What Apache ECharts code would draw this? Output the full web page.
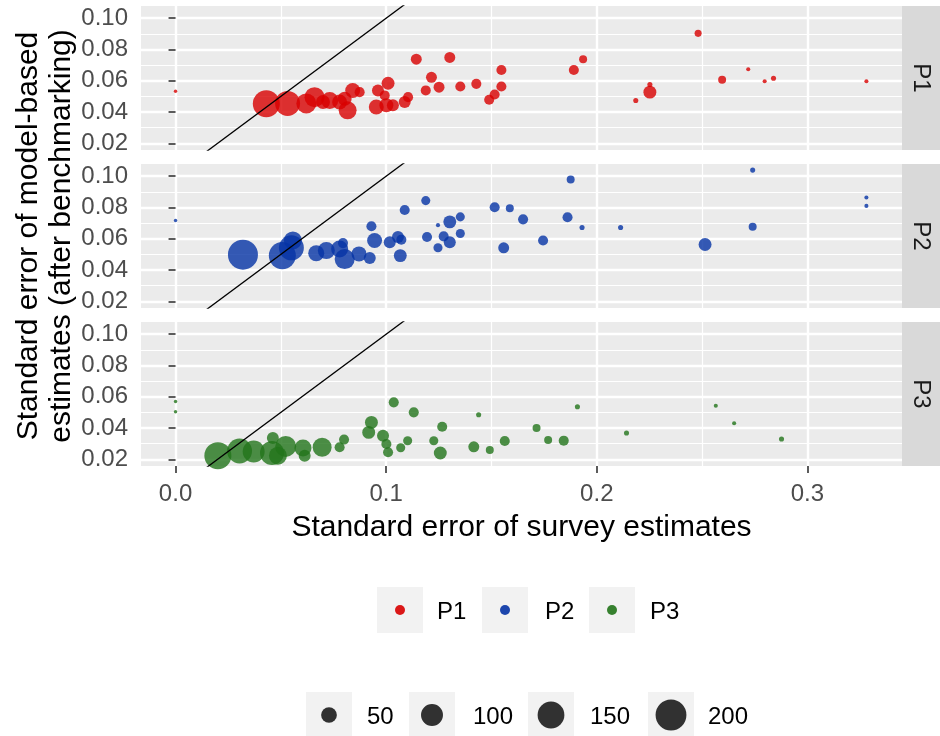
<!DOCTYPE html>
<html><head><meta charset="utf-8">
<script src="https://cdn.jsdelivr.net/npm/echarts@6/dist/echarts.min.js"></script>
<style>html,body{margin:0;padding:0;background:#fff}#c{width:940px;height:736px}</style>
</head><body><div id="c"></div>
<script>
// ---------------- data ----------------
const panels = ['P1', 'P2', 'P3'];
const xTicks = [0, 0.1, 0.2, 0.3];
const yTicks = [0.02, 0.04, 0.06, 0.08, 0.10];
const sizeBreaks = [50, 100, 150, 200];
const ablineIntercept = 0;
const ablineSlope = 1;

// P1: standard error of survey estimates / model-based estimates / size
const p1Survey = [0.000,0.0431,0.0532,0.0621,0.0660,0.0700,0.0732,0.0779,0.0803,0.0817,0.0841,0.0874,0.0953,0.0961,0.0993,0.1001,0.1009,0.1032,0.1088,0.1104,0.1143,0.1188,0.1215,0.1251,0.1302,0.1352,0.1428,0.1489,0.1515,0.1547,0.1547,0.1891,0.1935,0.2185,0.2252,0.2252,0.2481,0.2595,0.2719,0.2797,0.2839,0.3280];
const p1Model  = [0.0533,0.0453,0.0455,0.0455,0.0495,0.0464,0.0474,0.0464,0.0485,0.0411,0.0538,0.0527,0.0432,0.0538,0.0506,0.0443,0.0584,0.0443,0.0464,0.0495,0.0738,0.0538,0.0622,0.0559,0.0749,0.0563,0.0580,0.0478,0.0512,0.0563,0.0669,0.0669,0.0738,0.0474,0.0527,0.0576,0.0903,0.0607,0.0673,0.0597,0.0616,0.0597];
const p1Size   = [0,153,130,83,83,39,59,45,39,66,45,19,45,28,19,39,33,28,28,19,23,19,23,23,23,19,19,19,19,19,19,19,11,3,33,3,8,11,1,1,3,1];

const p2Survey = [0.000,0.0320,0.0507,0.0550,0.0557,0.0668,0.0716,0.0779,0.0795,0.0803,0.0871,0.0922,0.0930,0.0945,0.1017,0.1056,0.1067,0.1072,0.1088,0.1188,0.1194,0.1246,0.1246,0.1273,0.1302,0.1302,0.1352,0.1352,0.1515,0.1558,0.1587,0.1650,0.1745,0.1861,0.1876,0.1930,0.2113,0.2514,0.2740,0.2740,0.3280,0.3280];
const p2Model  = [0.0717,0.0498,0.0492,0.0542,0.0589,0.0507,0.0524,0.0535,0.0572,0.0470,0.0503,0.0477,0.0680,0.0589,0.0578,0.0611,0.0492,0.0594,0.0784,0.0844,0.0611,0.0687,0.0542,0.0615,0.0708,0.0578,0.0740,0.0633,0.0801,0.0542,0.0795,0.0724,0.0589,0.0737,0.0979,0.0672,0.0672,0.0563,0.1039,0.0676,0.0864,0.0810];
const p2Size   = [0,189,153,130,66,52,59,59,19,83,45,28,19,45,28,28,33,19,19,15,19,1,15,19,33,28,15,15,19,23,11,19,19,19,11,3,3,33,3,11,1,1];

const p3Survey = [0.000,0.000,0.0201,0.0304,0.0371,0.0458,0.0462,0.0486,0.0523,0.0605,0.0613,0.0696,0.0779,0.0800,0.0917,0.0930,0.0985,0.1001,0.1009,0.1036,0.1069,0.1102,0.1131,0.1226,0.1257,0.1266,0.1416,0.1439,0.1492,0.1563,0.1714,0.1769,0.1843,0.1908,0.2141,0.2565,0.2652,0.2877];
const p3Model  = [0.0570,0.0504,0.0223,0.0253,0.0250,0.0240,0.0336,0.0223,0.0282,0.0272,0.0223,0.0277,0.0277,0.0326,0.0372,0.0436,0.0351,0.0298,0.0245,0.0564,0.0274,0.0319,0.0500,0.0319,0.0240,0.0408,0.0280,0.0485,0.0259,0.0317,0.0400,0.0323,0.0319,0.0536,0.0368,0.0542,0.0430,0.0330];
const p3Size   = [0,0,153,130,100,120,28,66,91,59,28,74,19,19,33,33,28,19,19,19,15,15,19,15,33,19,23,3,11,19,11,11,19,3,3,1,1,3];

// ---------------- layout / style ----------------
const FONT = '"Liberation Sans", Arial, Helvetica, sans-serif';
const colors = ['#D80000', '#0533A5', '#22741A'];
const xMin = -0.0164, xMax = 0.3449;
const yMin = 0.0157, yMax = 0.1078;
const GL = 141, GR = 38, GT = 6, GH = 144, GSTEP = 158;
const sizeFn = v => Math.sqrt(4.7 * v + 12);

const surveys = [p1Survey, p2Survey, p3Survey];
const models = [p1Model, p2Model, p3Model];
const sizes = [p1Size, p2Size, p3Size];

const grids = [], xAxes = [], yAxes = [], series = [], graphics = [];
panels.forEach((p, i) => {
  const last = i === panels.length - 1;
  grids.push({ left: GL, right: GR, top: GT + i * GSTEP, height: GH, show: true,
    backgroundColor: '#EBEBEB', borderWidth: 0, containLabel: false, outerBoundsMode: 'none' });
  xAxes.push({
    type: 'value', gridIndex: i, min: xMin, max: xMax, splitNumber: 4,
    axisLine: { show: false },
    axisTick: { show: last, customValues: xTicks, length: 7, lineStyle: { color: '#333333', width: 1.6 } },
    axisLabel: { show: last, customValues: xTicks, formatter: v => v.toFixed(1), color: '#4D4D4D',
      fontSize: 24, fontFamily: FONT, margin: 16 },
    splitLine: { show: true, lineStyle: { color: '#FFFFFF', width: 2.4 } },
    minorTick: { show: false, splitNumber: 2 },
    minorSplitLine: { show: true, lineStyle: { color: '#FFFFFF', width: 1.2 } },
    name: last ? 'Standard error of survey estimates' : '',
    nameLocation: 'middle', nameGap: 47,
    nameTextStyle: { fontSize: 30, fontFamily: FONT, color: '#000000' }
  });
  yAxes.push({
    type: 'value', gridIndex: i, min: yMin, max: yMax, splitNumber: 4,
    axisLine: { show: false },
    axisTick: { show: true, customValues: yTicks, length: 7, lineStyle: { color: '#333333', width: 1.6 } },
    axisLabel: { show: true, customValues: yTicks, formatter: v => v.toFixed(2), color: '#4D4D4D',
      fontSize: 24, fontFamily: FONT, margin: 13 },
    splitLine: { show: true, lineStyle: { color: '#FFFFFF', width: 2.4 } },
    minorTick: { show: false, splitNumber: 2 },
    minorSplitLine: { show: true, lineStyle: { color: '#FFFFFF', width: 1.2 } }
  });
  const data = surveys[i].map((x, k) => [x, models[i][k], sizes[i][k]]);
  series.push({
    type: 'scatter', name: p, xAxisIndex: i, yAxisIndex: i, data: data,
    symbol: 'circle', symbolSize: v => sizeFn(v[2]),
    itemStyle: { color: colors[i], opacity: 0.8 }, clip: true, z: 2,
    emphasis: { disabled: true }
  });
  series.push({
    type: 'line', xAxisIndex: i, yAxisIndex: i, silent: true, clip: true, z: 3,
    data: [xMin, xMax].map(x => [x, ablineIntercept + ablineSlope * x]),
    symbol: 'none', lineStyle: { color: '#000000', width: 1.3 }
  });
  // facet strip
  const top = GT + i * GSTEP;
  graphics.push({ type: 'rect', shape: { x: 940 - GR, y: top, width: GR, height: GH },
    style: { fill: '#D9D9D9' }, silent: true });
  graphics.push({ type: 'text', x: 940 - GR / 2, y: top + GH / 2, rotation: -Math.PI / 2,
    style: { text: p, fontSize: 24, fontFamily: FONT, fill: '#1A1A1A', align: 'center', verticalAlign: 'middle' }, silent: true });
});

// y axis title (spans panels)
graphics.push({ type: 'text', x: 45, y: GT + (2 * GSTEP + GH) / 2, rotation: Math.PI / 2,
  style: { text: 'Standard error of model-based\nestimates (after benchmarking)', fontSize: 30, lineHeight: 33,
    fontFamily: FONT, fill: '#000000', align: 'center', verticalAlign: 'middle' }, silent: true });

// colour legend
const legBoxX = [377, 482, 589], legTextX = [437, 545, 650];
panels.forEach((p, i) => {
  graphics.push({ type: 'rect', shape: { x: legBoxX[i], y: 587, width: 46, height: 46 }, style: { fill: '#F2F2F2' }, silent: true });
  graphics.push({ type: 'circle', shape: { cx: legBoxX[i] + 23, cy: 610, r: 5 }, style: { fill: colors[i], opacity: 0.9 }, silent: true });
  graphics.push({ type: 'text', x: legTextX[i], y: 612, style: { text: p, fontSize: 24, fontFamily: FONT, fill: '#000000', align: 'left', verticalAlign: 'middle' }, silent: true });
});
// size legend
const sizeBoxX = [306, 409, 528, 648], sizeTextX = [367, 473, 590, 708];
sizeBreaks.forEach((s, i) => {
  graphics.push({ type: 'rect', shape: { x: sizeBoxX[i], y: 692, width: 46, height: 46 }, style: { fill: '#F2F2F2' }, silent: true });
  graphics.push({ type: 'circle', shape: { cx: sizeBoxX[i] + 23, cy: 715, r: sizeFn(s) / 2 }, style: { fill: '#000000', opacity: 0.8 }, silent: true });
  graphics.push({ type: 'text', x: sizeTextX[i], y: 717, style: { text: String(s), fontSize: 24, fontFamily: FONT, fill: '#000000', align: 'left', verticalAlign: 'middle' }, silent: true });
});

const chart = echarts.init(document.getElementById('c'), null, { renderer: 'canvas' });
chart.setOption({
  backgroundColor: '#FFFFFF',
  animation: false,
  grid: grids, xAxis: xAxes, yAxis: yAxes, series: series,
  graphic: graphics
});
</script></body></html>
